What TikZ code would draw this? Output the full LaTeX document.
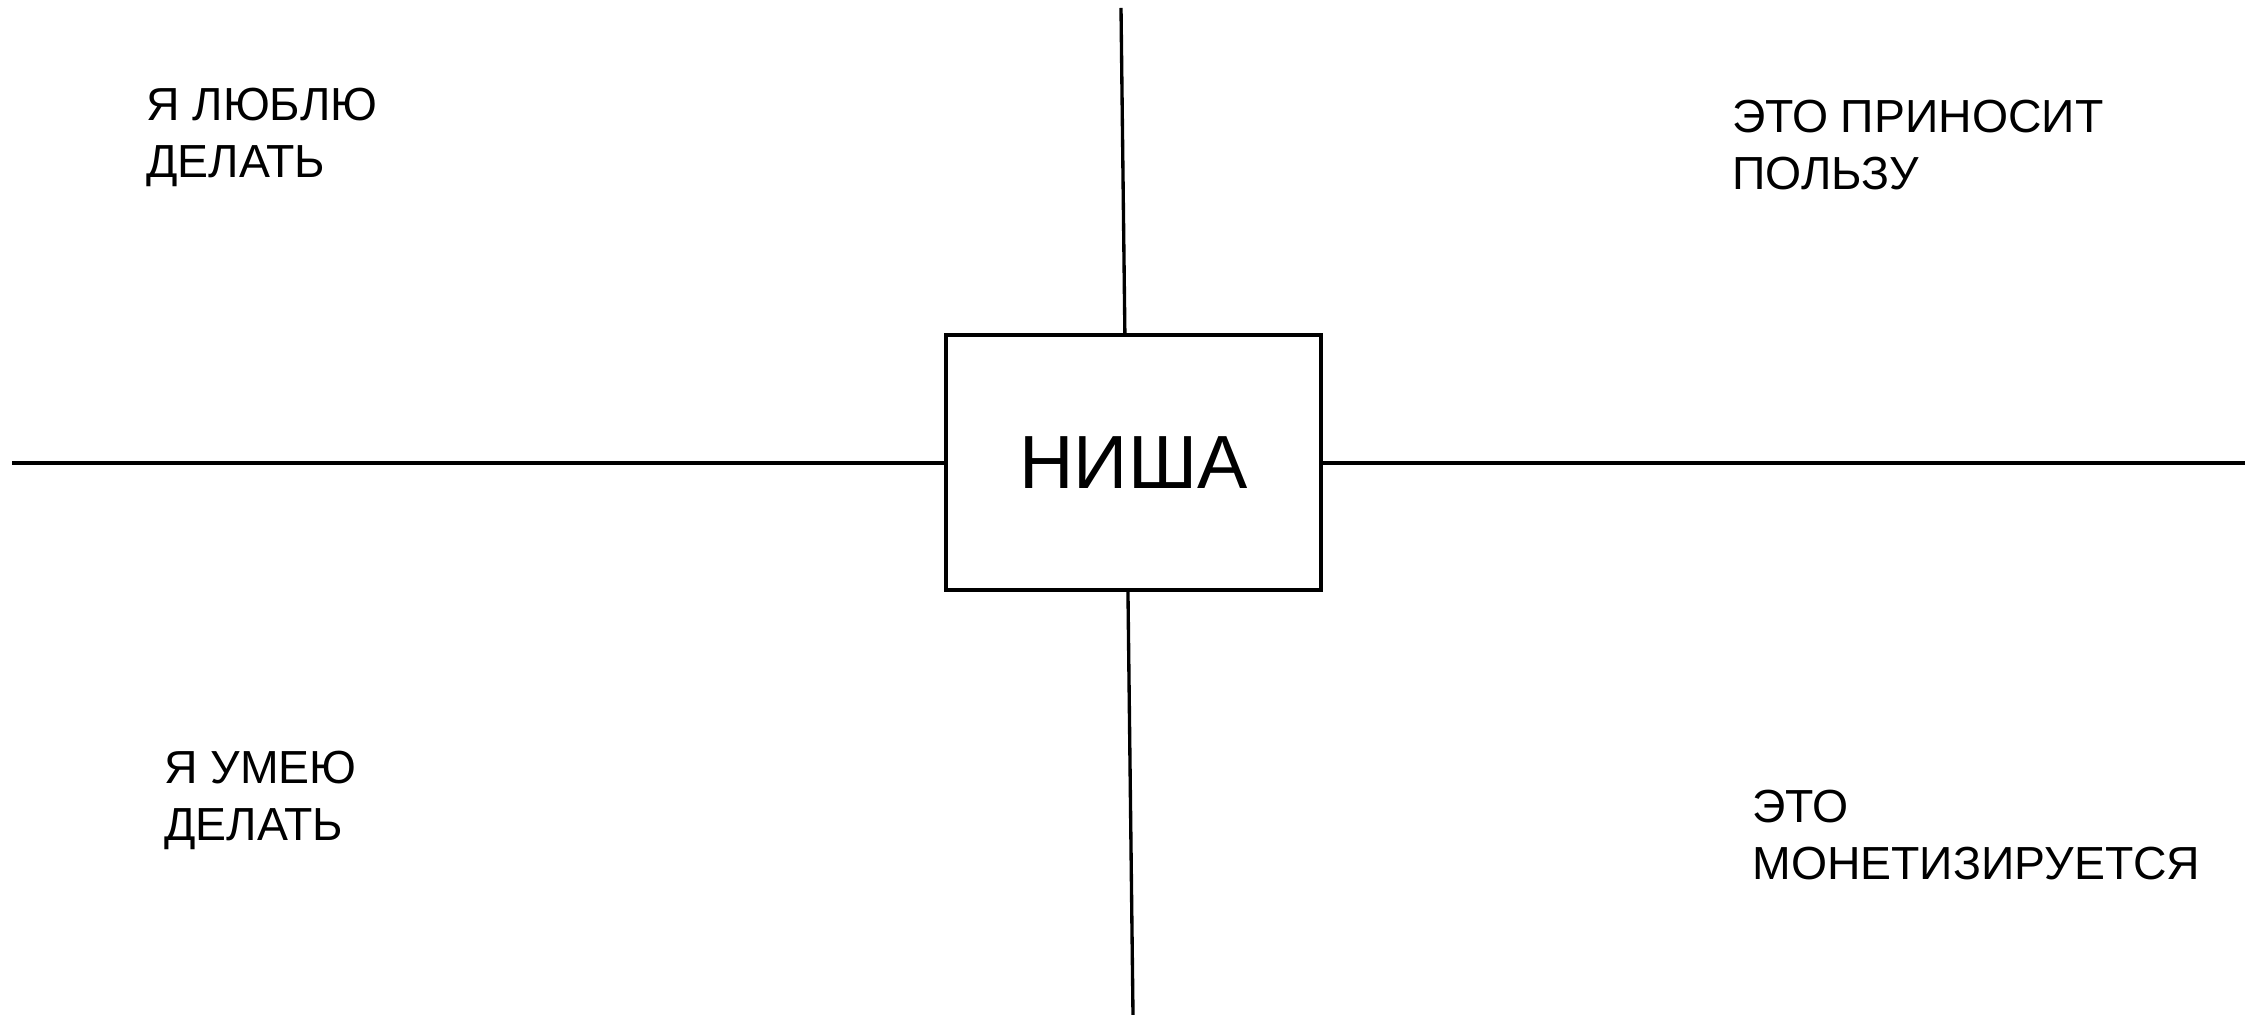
\documentclass[tikz,border=0pt]{standalone}
\usepackage{fontspec}
\setmainfont{Liberation Sans}
\usetikzlibrary{positioning}

\begin{document}
\begin{tikzpicture}[
nichebox/.style={draw=black,line width=1.9pt,fill=white,minimum width=7.5cm,
minimum height=5.1cm,font=\fontsize{42.9}{50}\selectfont,inner sep=0pt},
axis/.style={draw=black,line width=1.9pt},
corner/.style={align=left,anchor=base west,inner sep=0pt,
font=\fontsize{26.4}{32.6}\selectfont}]
\useasboundingbox (0,0) rectangle (45.08,20.3);
\coordinate (north) at (22.42,20.14);
\coordinate (south) at (22.66,0);
\coordinate (west) at (0.24,11.04);
\coordinate (east) at (44.9,11.04);
\draw[axis] (north)--(south);
\draw[axis] (west)--(east);
\node[nichebox] (niche) at (22.67,11.05) {НИША};
% base anchor sits on the last line
\node[corner] (love) at (2.92,16.74) {Я ЛЮБЛЮ\\ДЕЛАТЬ};
\node[corner] (useful) at (34.64,16.5) {ЭТО ПРИНОСИТ\\ПОЛЬЗУ};
\node[corner] (skill) at (3.28,3.48) {Я УМЕЮ\\ДЕЛАТЬ};
\node[corner] (money) at (35.04,2.7) {ЭТО\\МОНЕТИЗИРУЕТСЯ};
\end{tikzpicture}
\end{document}
